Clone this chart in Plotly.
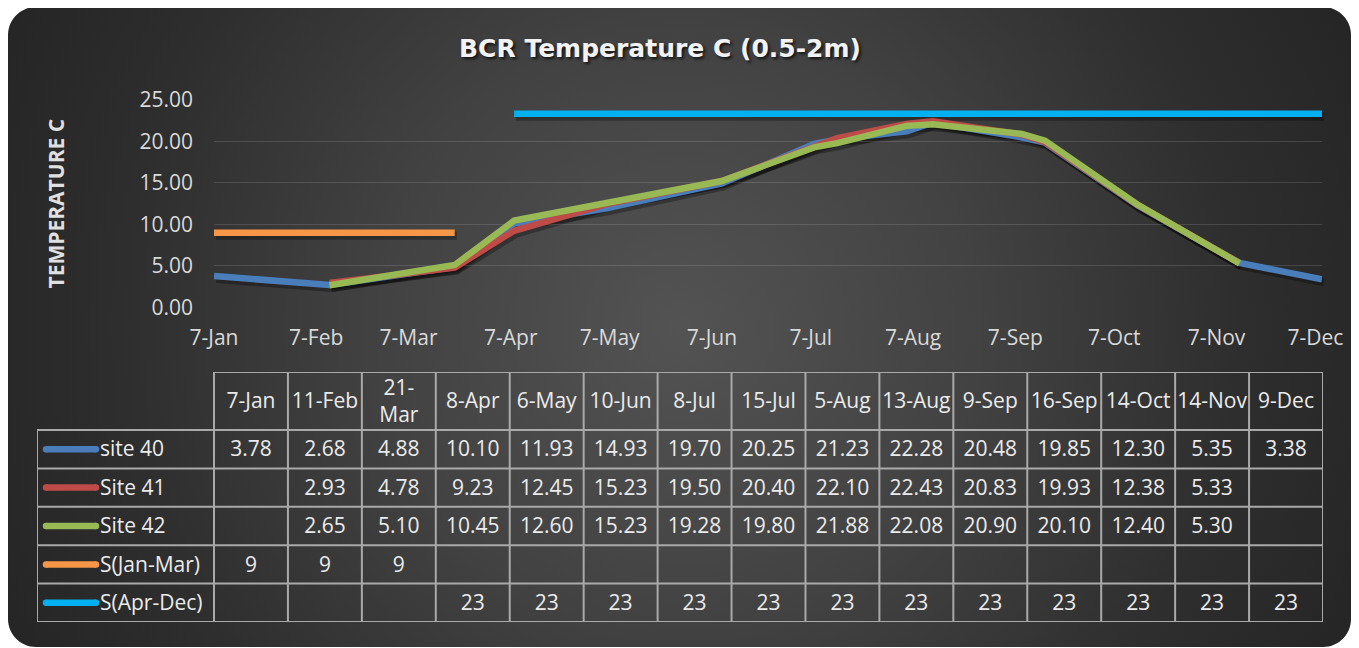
import numpy as np
import pandas as pd
import plotly.graph_objects as go

# ---------------- data ----------------
YEAR = 2019
dates = ["7-Jan", "11-Feb", "21-Mar", "8-Apr", "6-May", "10-Jun", "8-Jul", "15-Jul",
         "5-Aug", "13-Aug", "9-Sep", "16-Sep", "14-Oct", "14-Nov", "9-Dec"]
site40 = [3.78, 2.68, 4.88, 10.10, 11.93, 14.93, 19.70, 20.25, 21.23, 22.28, 20.48, 19.85, 12.30, 5.35, 3.38]
site41 = [None, 2.93, 4.78, 9.23, 12.45, 15.23, 19.50, 20.40, 22.10, 22.43, 20.83, 19.93, 12.38, 5.33, None]
site42 = [None, 2.65, 5.10, 10.45, 12.60, 15.23, 19.28, 19.80, 21.88, 22.08, 20.90, 20.10, 12.40, 5.30, None]
s_jan_mar = [9, 9, 9] + [None] * 12
s_apr_dec = [None] * 3 + [23.33] * 12

series_names = ["site 40", "Site 41", "Site 42", "S(Jan-Mar)", "S(Apr-Dec)"]
series_values = [site40, site41, site42, s_jan_mar, s_apr_dec]
series_colors = ["#4A7EBB", "#BE4B48", "#98B954", "#F79646", "#00B0F0"]
series_fmt = ["{:.2f}", "{:.2f}", "{:.2f}", "{:.0f}", "{:.0f}"]
wrapped_headers = {"21-Mar"}

title_text = "BCR Temperature C (0.5-2m)"
y_title = "TEMPERATURE C"

# ---------------- geometry (screen pixels) ----------------
OX, OY = 8, 8                      # page body margin
W, H = 1359 - OX, 648 - OY         # figure size


def fx(px):
    return (px - OX) / W


def fy(py):
    return 1 - (py - OY) / H


PLOT_L, PLOT_R, PLOT_T, PLOT_B = 214, 1322, 100, 307.3
TAB_L, TAB_R, TAB_T, TAB_B = 37, 1323, 372, 622
COL_W = (TAB_R - 214) / len(dates)
LEG_W = 214 - TAB_L
ROW_H = (TAB_B - 430) / 5
HDR_H = 430 - TAB_T
SHD_DX, SHD_DY = 2, 3
TXT_DY = 2 / ROW_H

FONT = "Open Sans"
TXT = "#ebebeb"
TICK = "#d9d9d9"
BORDER = "#a9a9a9"

x_dates = pd.to_datetime([f"{d} {YEAR}" for d in dates], format="%d-%b %Y")

fig = go.Figure()

# ---------------- background card with radial gradient ----------------
def rounded_rect(x0, y0, x1, y1, r, n=16):
    pts = []
    corners = [((x0 + r, y0 + r), np.pi, 1.5 * np.pi),
               ((x1 - r, y0 + r), 1.5 * np.pi, 2 * np.pi),
               ((x1 - r, y1 - r), 0, 0.5 * np.pi),
               ((x0 + r, y1 - r), 0.5 * np.pi, np.pi)]
    for (cx, cy), a0, a1 in corners:
        for t in np.linspace(a0, a1, n):
            pts.append((cx + r * np.cos(t), cy + r * np.sin(t)))
    return pts


card = rounded_rect(8, 7, 1351, 647, 28)
cx, cy = (8 + 1351) / 2, (7 + 647) / 2
R = float(np.hypot(1351 - cx, 647 - cy))
bx = [p[0] for p in card] + [None]
by = [p[1] for p in card] + [None]
# tiny off-canvas sub-paths so the gradient's bounding box is a circle around the card centre
for sx, sy in [(cx - R, cy - R), (cx + R, cy + R)]:
    bx += [sx, sx + 1, sx, None]
    by += [sy, sy, sy + 1, None]

fig.add_trace(go.Scatter(
    x=bx, y=by, xaxis="x", yaxis="y", mode="none", fill="toself",
    fillgradient=dict(type="radial",
                      colorscale=[[0, "#535353"], [0.4, "#424242"], [0.75, "#2e2e2e"], [1, "#252525"]]),
    hoverinfo="skip", showlegend=False))

# ---------------- soft drop shadows of the lines ----------------
for vals in series_values:
    fig.add_trace(go.Scatter(
        x=x_dates, y=vals, xaxis="x2", yaxis="y2", mode="lines",
        line=dict(color="rgba(0,0,0,0.30)", width=8), connectgaps=False,
        hoverinfo="skip", showlegend=False))

# ---------------- main line chart ----------------
for name, vals, col in zip(series_names, series_values, series_colors):
    fig.add_trace(go.Scatter(
        x=x_dates, y=vals, xaxis="x3", yaxis="y3", mode="lines", name=name,
        line=dict(color=col, width=6.5), connectgaps=False, showlegend=False))

# ---------------- data table (own axes: column index / row index) ----------------
ncol = len(dates)
nrow = len(series_names)
leg_left = -LEG_W / COL_W
hdr_top = -HDR_H / ROW_H

hdr_text = [d.replace("-", "-<br>") if d in wrapped_headers else d for d in dates]
fig.add_trace(go.Scatter(
    x=[i + 0.5 for i in range(ncol)], y=[hdr_top / 2 + TXT_DY] * ncol, text=hdr_text,
    mode="text", textposition="middle center", xaxis="x4", yaxis="y4",
    textfont=dict(family=FONT, size=21, color=TXT), hoverinfo="skip",
    showlegend=False, cliponaxis=False))

vx, vy, vt = [], [], []
for r, (vals, fmt) in enumerate(zip(series_values, series_fmt)):
    for c, v in enumerate(vals):
        if v is not None:
            vx.append(c + 0.5)
            vy.append(r + 0.5 + TXT_DY)
            vt.append(fmt.format(v))
fig.add_trace(go.Scatter(
    x=vx, y=vy, text=vt, mode="text", textposition="middle center",
    xaxis="x4", yaxis="y4", textfont=dict(family=FONT, size=21, color=TXT),
    hoverinfo="skip", showlegend=False, cliponaxis=False))

# legend keys + names in first column
sw0 = leg_left + 9 / COL_W
sw1 = leg_left + 59 / COL_W
for r, (name, col) in enumerate(zip(series_names, series_colors)):
    fig.add_trace(go.Scatter(
        x=[sw0, sw1], y=[r + 0.5, r + 0.5], mode="lines+markers", xaxis="x4", yaxis="y4",
        line=dict(color=col, width=6.5), marker=dict(color=col, size=6.5, line=dict(width=0)),
        hoverinfo="skip", showlegend=False, cliponaxis=False))
fig.add_trace(go.Scatter(
    x=[leg_left + 63 / COL_W] * nrow, y=[r + 0.5 + TXT_DY for r in range(nrow)],
    text=series_names, mode="text", textposition="middle right", xaxis="x4", yaxis="y4",
    textfont=dict(family=FONT, size=21, color=TXT), hoverinfo="skip",
    showlegend=False, cliponaxis=False))

# table borders
segs = [(0, hdr_top, ncol, hdr_top)]
for r in range(nrow + 1):
    segs.append((leg_left, r, ncol, r))
segs.append((leg_left, 0, leg_left, nrow))
for c in range(ncol + 1):
    segs.append((c, hdr_top, c, nrow))
shapes = [dict(type="line", xref="x4", yref="y4", x0=a, y0=b, x1=c_, y1=d,
               line=dict(color=BORDER, width=2), layer="above")
          for a, b, c_, d in segs]

tickfont = dict(family=FONT, size=21, color=TICK)
fig.update_layout(
    width=W, height=H, margin=dict(l=0, r=0, t=0, b=0),
    paper_bgcolor="white", plot_bgcolor="rgba(0,0,0,0)",
    showlegend=False, hovermode=False, shapes=shapes,
    title=dict(text=title_text, x=fx(660), y=fy(48), xanchor="center", yanchor="middle",
               font=dict(family="DejaVu Sans", size=25, color="#f2f2f2", weight="bold",
                         shadow="2px 2px 3px rgba(0,0,0,0.7)")),
    # background canvas in screen pixels
    xaxis=dict(domain=[0, 1], range=[OX, OX + W], visible=False, fixedrange=True),
    yaxis=dict(domain=[0, 1], range=[OY + H, OY], visible=False, fixedrange=True),
    # shadow copy of the chart axes, nudged down-right
    xaxis2=dict(domain=[fx(PLOT_L + SHD_DX), fx(PLOT_R + SHD_DX)], anchor="y2", type="date",
                range=[x_dates[0], x_dates[-1]], visible=False, fixedrange=True),
    yaxis2=dict(domain=[fy(PLOT_B + SHD_DY), fy(PLOT_T + SHD_DY)], anchor="x2", range=[0, 25],
                visible=False, fixedrange=True),
    # main chart axes
    xaxis3=dict(domain=[fx(PLOT_L), fx(PLOT_R)], anchor="y3", type="date",
                range=[x_dates[0], x_dates[-1]], tick0=x_dates[0], dtick="M1",
                tickformat="%-d-%b", showgrid=False, zeroline=False, showline=False,
                ticks="", ticklabelstandoff=16, automargin=False, tickfont=tickfont),
    yaxis3=dict(domain=[fy(PLOT_B), fy(PLOT_T)], anchor="x3", range=[0, 25],
                dtick=5, tickformat=".2f", showgrid=True, gridcolor="rgba(255,255,255,0.13)",
                gridwidth=1.3, zeroline=False, showline=False, ticks="",
                ticklabelstandoff=20, automargin=False, tickfont=tickfont,
                title=dict(text=y_title, standoff=69,
                           font=dict(family=FONT, size=21, color="#e0e0e0", weight="bold"))),
    # table axes: x = column index, y = row index
    xaxis4=dict(domain=[fx(TAB_L), fx(TAB_R)], anchor="y4", range=[leg_left, ncol],
                visible=False, fixedrange=True),
    yaxis4=dict(domain=[fy(TAB_B), fy(TAB_T)], anchor="x4", range=[nrow, hdr_top],
                visible=False, fixedrange=True),
)

fig.write_html("out.html")
